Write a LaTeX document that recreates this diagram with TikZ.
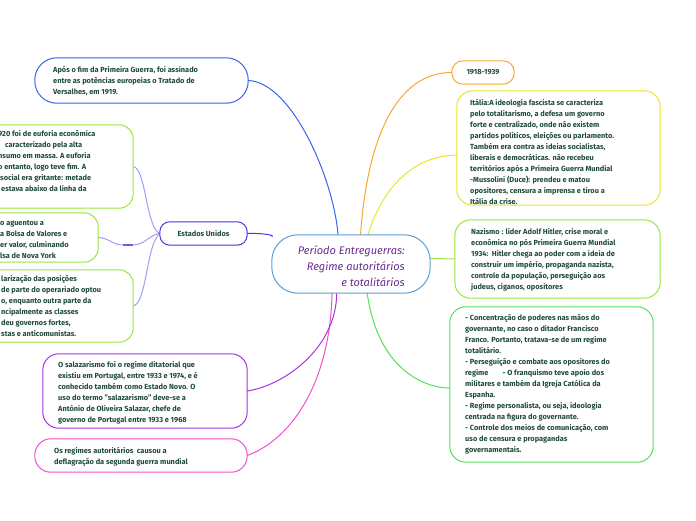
\documentclass[tikz,border=0pt]{standalone}
\usepackage{fontspec}
\setmainfont{Fira Sans}
\definecolor{txt}{HTML}{1F4A3C}
\definecolor{ctxt}{HTML}{6A2D90}
\definecolor{cblue}{HTML}{3A62EC}
\definecolor{corange}{HTML}{F8A830}
\definecolor{cyellow}{HTML}{E6E62A}
\definecolor{cygreen}{HTML}{9AE640}
\definecolor{cgreen}{HTML}{55E055}
\definecolor{cmagenta}{HTML}{F050D0}
\definecolor{cpurple}{HTML}{A634E6}
\definecolor{ceu}{HTML}{4C32E2}
\definecolor{ceulight}{HTML}{A898F8}
\definecolor{ccenter}{HTML}{5AA0D8}
\begin{document}
\begin{tikzpicture}[x=1pt,y=-1pt,
  box/.style={fill=white, line width=1pt},
  txtnode/.style={inner sep=0pt, anchor=west, align=left, text=txt,
    font=\fontsize{7.4}{11}\selectfont\bfseries},
  frame/.style={inner sep=0pt},
  conn/.style={line width=1pt}]
\useasboundingbox (0,0) rectangle (696,520);

% named helper coordinates
\coordinate (k1) at (123,245);
\coordinate (k2) at (133,245);

% ---------- box frames (invisible nodes for anchors) ----------
\path
  node[frame, minimum width=158pt, minimum height=58pt] (c) at (351,264) {}
  node[frame, minimum width=213pt, minimum height=45pt] (tl) at (141.5,80.5) {}
  node[frame, minimum width=163pt, minimum height=83pt] (b2) at (51.5,166.5) {}
  node[frame, minimum width=128pt, minimum height=49pt] (b3) at (34,237.5) {}
  node[frame, minimum width=163pt, minimum height=72pt] (b4) at (51.5,306) {}
  node[frame, minimum width=87pt, minimum height=23pt] (eu) at (203.5,233.5) {}
  node[frame, minimum width=204pt, minimum height=74pt] (sal) at (145,391) {}
  node[frame, minimum width=212pt, minimum height=33pt] (bl) at (141,455.5) {}
  node[frame, minimum width=62pt, minimum height=23pt] (y18) at (483,72.5) {}
  node[frame, minimum width=203pt, minimum height=114pt] (it) at (558.5,148) {}
  node[frame, minimum width=205pt, minimum height=78pt] (nz) at (557.5,259) {}
  node[frame, minimum width=203pt, minimum height=155pt] (br) at (551.5,384.5) {};

% ---------- connectors ----------
\draw[conn, cblue] (tl.east) .. controls (292,82) and (334,180) .. (c.114);
\draw[conn, corange] (c.72) .. controls (368,130) and (400,72.5) .. (y18.west);
\draw[conn, cyellow] (c.60) .. controls (385,180) and (420,155) .. (it.184);
\draw[conn, cygreen] (c.4) -- (nz.west);
\draw[conn, cgreen] (c.299) .. controls (378,370) and (425,388) .. (br.182);
\draw[conn, cmagenta] (c.237) .. controls (330,385) and (290,440) .. (bl.east);
\draw[conn, cpurple] (c.244) .. controls (336,350) and (282,386) .. (sal.east);
\draw[conn, ceu] (eu.east) .. controls (262,233) and (275,235) .. (c.161);
\draw[conn, ceulight] (b2.east) .. controls (146,168) and (146,228) .. (eu.west);
\draw[conn, ceulight] (b3.east) .. controls (110,238) and (112,245) .. (k1);
\draw[line width=1.8pt, ceu!80] (k1) -- (k2);
\draw[conn, ceulight] (k2) .. controls (145,245) and (150,234) .. (eu.west);
\draw[conn, ceulight] (b4.east) .. controls (147,303) and (146,245) .. (eu.west);

% ---------- box outlines on top ----------
\draw[box, draw=ccenter, rounded corners=26pt] (c.south west) rectangle (c.north east);
\draw[box, draw=cblue, rounded corners=22pt] (tl.south west) rectangle (tl.north east);
\draw[box, draw=cygreen, rounded corners=14pt] (b2.south west) rectangle (b2.north east);
\draw[box, draw=cygreen, rounded corners=14pt] (b3.south west) rectangle (b3.north east);
\draw[box, draw=cygreen, rounded corners=14pt] (b4.south west) rectangle (b4.north east);
\draw[box, draw=ceu, rounded corners=10pt] (eu.south west) rectangle (eu.north east);
\draw[box, draw=cpurple, rounded corners=16pt] (sal.south west) rectangle (sal.north east);
\draw[box, draw=cmagenta, rounded corners=16pt] (bl.south west) rectangle (bl.north east);
\draw[box, draw=corange, rounded corners=11pt] (y18.south west) rectangle (y18.north east);
\draw[box, draw=cyellow, rounded corners=16pt] (it.south west) rectangle (it.north east);
\draw[box, draw=cygreen, rounded corners=16pt] (nz.south west) rectangle (nz.north east);
\draw[box, draw=cgreen, rounded corners=16pt] (br.south west) rectangle (br.north east);

% ---------- texts ----------
\node[inner sep=0pt, anchor=east, align=right, text=ctxt,
  font=\fontsize{11}{16}\selectfont\itshape] (ct) at (405,266)
  {Período Entreguerras:\\ Regime autoritários\\ e totalitários};

\node[txtnode] (ttl) at (53,81)
  {Após o fim da Primeira Guerra, foi assinado\\
   entre as potências europeias o Tratado de\\
   Versalhes, em 1919.};

\node[txtnode] (tb2) at (-2,161.5)
  {920 foi de euforia econômica\\
   \hspace*{7pt}caracterizado pela alta\\
   nsumo em massa. A euforia\\
   o entanto, logo teve fim. A\\
   \hspace*{2pt}social era gritante: metade\\
   \hspace*{3pt}estava abaixo da linha da};

\node[txtnode] (tb3) at (0,239.5)
  {o aguentou a\\
   a Bolsa de Valores e\\
   er valor, culminando\\
   lsa de Nova York};

\node[txtnode] (tb4) at (1,306.5)
  {larização das posições\\
   de parte do operariado optou\\
   o, enquanto outra parte da\\
   ncipalmente as classes\\
   deu governos fortes,\\
   stas e anticomunistas.};

\node[txtnode, anchor=center, align=center] (teu) at (eu.center) {Estados Unidos};

\node[txtnode] (tsal) at (58,392.5)
  {O salazarismo foi o regime ditatorial que\\
   existiu em Portugal, entre 1933 e 1974, e é\\
   conhecido também como Estado Novo. O\\
   uso do termo "salazarismo" deve-se a\\
   António de Oliveira Salazar, chefe de\\
   governo de Portugal entre 1933 e 1968};

\node[txtnode] (tbl) at (54,456.5)
  {Os regimes autoritários\ \ causou a\\
   deflagração da segunda guerra mundial};

\node[txtnode, anchor=center, align=center] (ty18) at (y18.center) {1918-1939};

\node[txtnode] (tit) at (470,152)
  {Itália:A ideologia fascista se caracteriza\\
   pelo totalitarismo, a defesa um governo\\
   forte e centralizado, onde não existem\\
   partidos políticos, eleições ou parlamento.\\
   Também era contra as ideias socialistas,\\
   liberais e democráticas. não recebeu\\
   territórios após a Primeira Guerra Mundial\\
   -Mussolini (Duce): prendeu e matou\\
   opositores, censura a imprensa e tirou a\\
   Itália da crise.};

\node[txtnode] (tnz) at (471,259.5)
  {Nazismo : líder Adolf Hitler, crise moral e\\
   econômica no pós Primeira Guerra Mundial\\
   1934:\ \ Hitler chega ao poder com a ideia de\\
   construir um império, propaganda nazista,\\
   controle da população, perseguição aos\\
   judeus, ciganos, opositores};

\node[txtnode] (tbr) at (465,384)
  {- Concentração de poderes nas mãos do\\
   governante, no caso o ditador Francisco\\
   Franco. Portanto, tratava-se de um regime\\
   totalitário.\\
   - Perseguição e combate aos opositores do\\
   regime\hspace{14pt}- O franquismo teve apoio dos\\
   militares e também da Igreja Católica da\\
   Espanha.\\
   - Regime personalista, ou seja, ideologia\\
   centrada na figura do governante.\\
   - Controle dos meios de comunicação, com\\
   uso de censura e propagandas\\
   governamentais.};
\end{tikzpicture}
\end{document}
